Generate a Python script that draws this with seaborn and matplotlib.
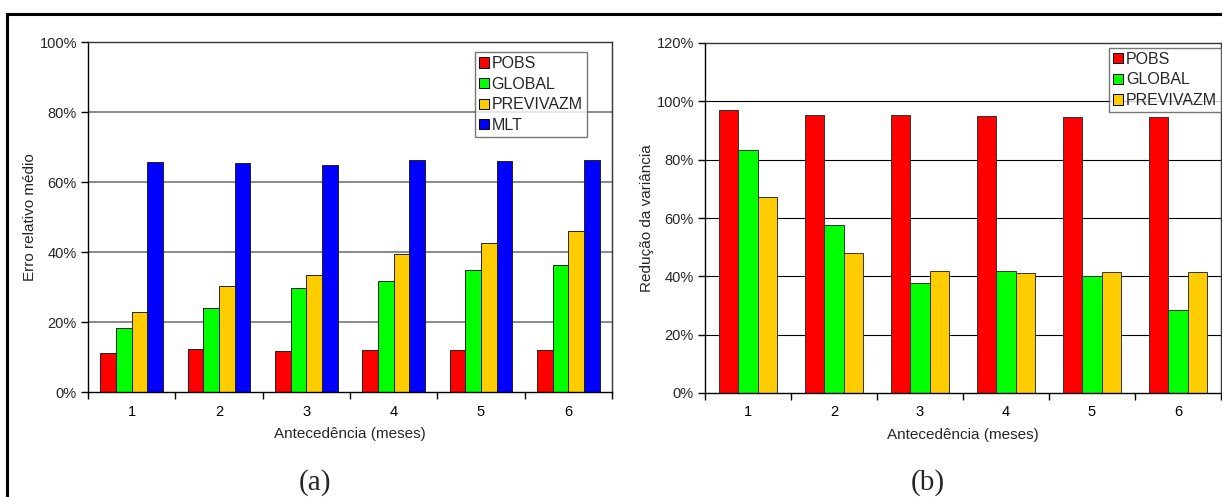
import matplotlib
matplotlib.use("Agg")
import matplotlib.pyplot as plt
import numpy as np
import pandas as pd
import seaborn as sns
from matplotlib.patches import Rectangle
from matplotlib.ticker import PercentFormatter, FixedLocator

# Lead times (months)
leads = ["1", "2", "3", "4", "5", "6"]

# (a) Mean relative error (%)
err_pobs = [11.2, 12.4, 11.7, 12.1, 11.9, 11.9]
err_global = [18.4, 24.1, 29.6, 31.7, 35.0, 36.2]
err_previvazm = [22.9, 30.3, 33.5, 39.5, 42.7, 46.0]
err_mlt = [65.7, 65.5, 65.0, 66.3, 66.0, 66.3]

# (b) Variance reduction (%)
var_pobs = [97.0, 95.3, 95.2, 94.9, 94.7, 94.5]
var_global = [83.4, 57.5, 37.7, 41.7, 40.1, 28.5]
var_previvazm = [67.3, 47.9, 41.7, 41.0, 41.6, 41.5]

models_a = ["POBS", "GLOBAL", "PREVIVAZM", "MLT"]
models_b = ["POBS", "GLOBAL", "PREVIVAZM"]
colors = {"POBS": "#FF0000", "GLOBAL": "#00FF00",
          "PREVIVAZM": "#FFCC00", "MLT": "#0000FF"}


def long_frame(series):
    rows = []
    for name, vals in series.items():
        for lead, v in zip(leads, vals):
            rows.append({"Antecedência": lead, "Modelo": name, "valor": v})
    return pd.DataFrame(rows)


df_a = long_frame({"POBS": err_pobs, "GLOBAL": err_global,
                   "PREVIVAZM": err_previvazm, "MLT": err_mlt})
df_b = long_frame({"POBS": var_pobs, "GLOBAL": var_global,
                   "PREVIVAZM": var_previvazm})

sns.set_theme(style="white")
plt.rcParams["font.family"] = ["Liberation Sans", "DejaVu Sans"]

W, H = 1222, 497
fig = plt.figure(figsize=(W / 100, H / 100), dpi=100)
fig.patch.set_facecolor("white")

# Outer frame around both panels
fig.add_artist(Rectangle((7 / W, -0.1), 1.2, 1 - 14 / H + 0.1,
                         transform=fig.transFigure, fill=False,
                         edgecolor="black", linewidth=2.2, clip_on=False))

ax_a = fig.add_axes([88 / W, 1 - 392 / H, (612 - 88) / W, (392 - 42) / H])
ax_b = fig.add_axes([705 / W, 1 - 393 / H, (1221 - 705) / W, (393 - 43) / H])


def style_axes(ax, ymax, step, gridcolor, gridwidth, ylabel):
    ax.set_xlim(-0.5, 5.5)
    ax.set_ylim(0, ymax)
    ax.set_yticks(np.arange(0, ymax + 1, step))
    ax.yaxis.set_major_formatter(PercentFormatter(decimals=0))
    for y in np.arange(step, ymax, step):
        ax.axhline(y, color=gridcolor, linewidth=gridwidth, zorder=0)
    for s in ax.spines.values():
        s.set_visible(True)
        s.set_color("black")
        s.set_linewidth(1.0)
    ax.spines["top"].set_color("#333333")
    ax.spines["right"].set_color("#333333")
    ax.xaxis.set_minor_locator(FixedLocator(np.arange(-0.5, 6.0, 1.0)))
    ax.tick_params(axis="x", which="major", length=0, pad=9,
                   labelsize=10.5, colors="black")
    ax.tick_params(axis="x", which="minor", length=5, width=1,
                   direction="out", color="black", bottom=True)
    ax.tick_params(axis="y", which="major", length=5, width=1,
                   direction="out", color="black", left=True,
                   labelsize=10.5, pad=3)
    ax.set_xlabel("Antecedência (meses)", fontsize=11, labelpad=6)
    ax.set_ylabel(ylabel, fontsize=11, labelpad=2)


sns.barplot(data=df_a, x="Antecedência", y="valor", hue="Modelo",
            hue_order=models_a, palette=colors, width=0.72,
            edgecolor="#222222", linewidth=0.7, saturation=1,
            ax=ax_a, zorder=2)
style_axes(ax_a, 100, 20, "#808080", 1.3, "Erro relativo médio")

sns.barplot(data=df_b, x="Antecedência", y="valor", hue="Modelo",
            hue_order=models_b, palette=colors, width=0.67,
            edgecolor="#333333", linewidth=0.7, saturation=1,
            ax=ax_b, zorder=2)
style_axes(ax_b, 120, 20, "black", 0.8, "Redução da variância")

for ax, anchor in ((ax_a, (0.7385, 0.971)), (ax_b, (0.783, 0.986))):
    leg = ax.legend(loc="upper left", bbox_to_anchor=anchor, frameon=True,
                    fancybox=False, edgecolor="#555555", fontsize=11.5,
                    handlelength=0.6, handleheight=0.6, handletextpad=0.2,
                    labelspacing=0.35, borderpad=0.25, borderaxespad=0)
    leg.get_frame().set_linewidth(1.0)
    for h in leg.legend_handles:
        h.set_edgecolor("black")
        h.set_linewidth(0.7)

fig.text(315 / W, 1 - 483 / H, "(a)", ha="center", va="center",
         fontsize=21, family=["Liberation Serif", "DejaVu Serif"])
fig.text(928 / W, 1 - 483 / H, "(b)", ha="center", va="center",
         fontsize=21, family=["Liberation Serif", "DejaVu Serif"])

fig.savefig("out.png", dpi=100, facecolor="white")
